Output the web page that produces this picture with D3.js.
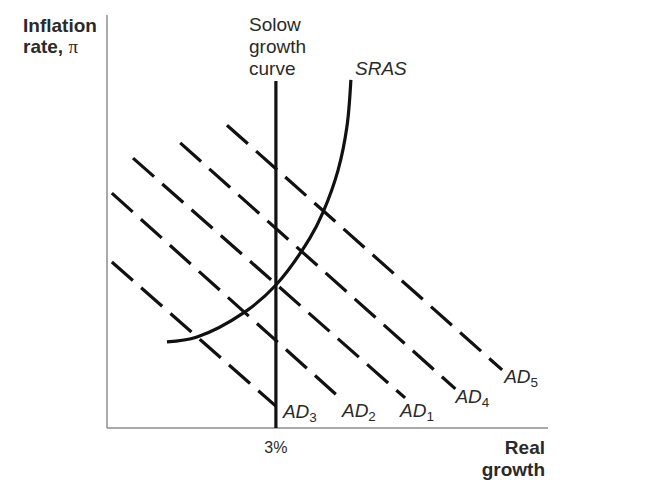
<!DOCTYPE html>
<html>
<head>
<meta charset="utf-8">
<script src="https://cdn.jsdelivr.net/npm/d3@7"></script>
<style>
  html, body { margin: 0; padding: 0; background: #fff; }
  svg { display: block; }
  text { font-family: "Liberation Sans", Arial, sans-serif; fill: #2a2a2a; }
</style>
</head>
<body>
<svg id="chart" width="650" height="489"></svg>
<script>
// ---- data (abstract units: growth on x, inflation on y) ----
const adNames   = ["AD5", "AD4", "AD1", "AD2", "AD3"];
const adStartX  = [27.2, 16.6, 5.9, 1.1, 1.1];
const adStartY  = [73.5, 69.2, 65.5, 57.0, 40.3];
const adEndX    = [89.6, 79.0, 67.6, 52.6, 38.3];
const adEndY    = [14.1, 9.5, 7.3, 7.5, 5.3];

const srasX = [13.6, 20.4, 31.3, 38.3, 46.0, 49.0, 52.4, 54.4, 55.3];
const srasY = [20.9, 22.1, 28.2, 34.7, 46.1, 52.4, 62.6, 73.1, 84.5];

const solowX = 38.3;
const solowTop = 84.2;
const tickLabels = ["3%"];

// ---- scales ----
const x = d3.scaleLinear().domain([0, 100]).range([107, 548]);
const y = d3.scaleLinear().domain([0, 100]).range([428, 16]);

const svg = d3.select("#chart");

// axes
const axisG = svg.append("g");
axisG.append("line")
  .attr("x1", x(0)).attr("x2", x(0)).attr("y1", y(0)).attr("y2", y(100) - 1)
  .attr("stroke", "#8c8c8c").attr("stroke-width", 1.5);
axisG.append("line")
  .attr("x1", x(0)).attr("x2", x(100)).attr("y1", y(0)).attr("y2", y(0))
  .attr("stroke", "#8c8c8c").attr("stroke-width", 1.5);

// AD lines
const adData = adNames.map((n, i) => ({
  name: n,
  pts: [[adStartX[i], adStartY[i]], [adEndX[i], adEndY[i]]]
}));
const line = d3.line().x(d => x(d[0])).y(d => y(d[1]));
svg.append("g").selectAll("path").data(adData).join("path")
  .attr("d", d => line(d.pts))
  .attr("fill", "none")
  .attr("stroke", "#111")
  .attr("stroke-width", 3.2)
  .attr("stroke-dasharray", "28,11");

// Solow vertical
svg.append("line")
  .attr("x1", x(solowX)).attr("x2", x(solowX))
  .attr("y1", y(solowTop)).attr("y2", y(0))
  .attr("stroke", "#111").attr("stroke-width", 3.2);

// SRAS
const srasPts = srasX.map((v, i) => [v, srasY[i]]);
svg.append("path")
  .attr("d", d3.line().x(d => x(d[0])).y(d => y(d[1])).curve(d3.curveCatmullRom)(srasPts))
  .attr("fill", "none").attr("stroke", "#111").attr("stroke-width", 3.2);

// AD labels
const labelOffsets = { AD3: [7, 12], AD2: [3, 20], AD1: [-5, 19], AD4: [0, 14], AD5: [2, 13] };
adData.forEach(d => {
  const end = d.pts[1];
  const off = labelOffsets[d.name];
  const t = svg.append("text")
    .attr("x", x(end[0]) + off[0])
    .attr("y", y(end[1]) + off[1])
    .attr("font-size", 19)
    .attr("font-style", "italic");
  t.append("tspan").text("AD");
  t.append("tspan").attr("font-size", 13.5).attr("font-style", "normal").attr("dy", 4).text(d.name.slice(2));
});

// tick label
svg.append("text")
  .attr("x", x(solowX)).attr("y", 453)
  .attr("text-anchor", "middle").attr("font-size", 16)
  .attr("fill", "#444")
  .text(tickLabels[0]);

// axis titles
const yt = svg.append("text").attr("font-size", 19).attr("font-weight", "bold").attr("x", 23);
yt.append("tspan").attr("x", 23).attr("y", 32).text("Inflation");
yt.append("tspan").attr("x", 23).attr("y", 53).text("rate, ");
yt.append("tspan").attr("font-weight", "normal").attr("font-family", "'Liberation Serif', serif").text("π");

const xt = svg.append("text").attr("font-size", 19).attr("font-weight", "bold").attr("text-anchor", "end");
xt.append("tspan").attr("x", 545).attr("y", 454).text("Real");
xt.append("tspan").attr("x", 545).attr("y", 476).text("growth");

// curve labels
const sl = svg.append("text").attr("font-size", 19);
["Solow", "growth", "curve"].forEach((w, i) => {
  sl.append("tspan").attr("x", 249).attr("y", 31 + i * 22).text(w);
});
svg.append("text").attr("x", 355).attr("y", 75)
  .attr("font-size", 19).attr("font-style", "italic").text("SRAS");
</script>
</body>
</html>
